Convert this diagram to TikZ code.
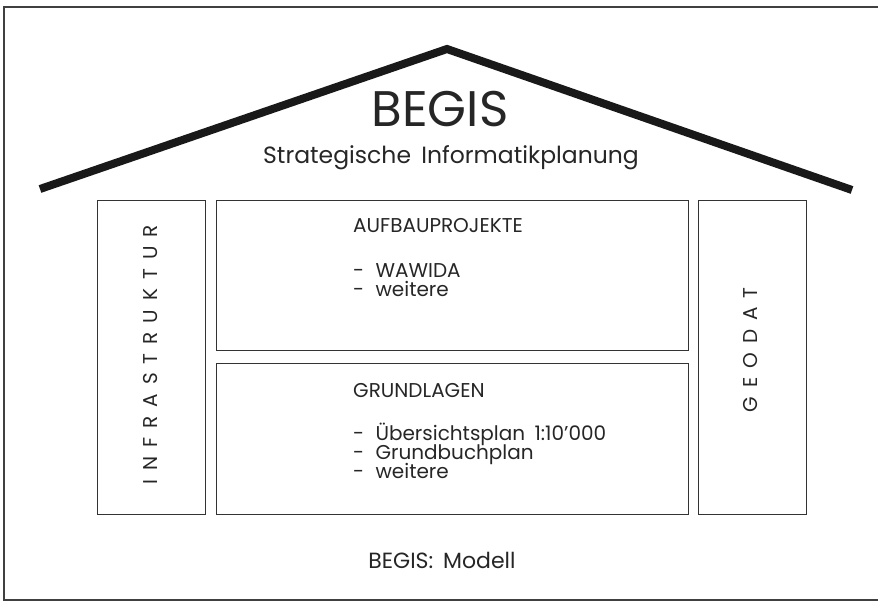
\documentclass[tikz,border=0pt]{standalone}
\usepackage{fontspec}
\setmainfont{Poppins}
\newcommand{\lettergap}{\spaceskip=9pt\relax}

\begin{document}
\begin{tikzpicture}[x=1pt,y=-1pt,
  frameline/.style={draw=black!75,line width=1.2pt},
  boxline/.style={draw=black!80,line width=0.9pt},
  itemtext/.style={anchor=base west,inner sep=0pt,font=\fontsize{20}{22}\selectfont,text=black!85},
  vertext/.style={rotate=90,inner sep=0pt,font=\fontsize{20}{22}\selectfont,text=black!85}]

\useasboundingbox (0,0) rectangle (878,604);

%%%%%%%%%%%%%%%%%%%%%%%%%%%%%%%%%%%%%%
\draw [frameline] (878,7) -- (4,7) -- (4,600) -- (878,600);

\coordinate (eaveL) at (40,189);
\coordinate (apex) at (447,49);
\coordinate (eaveR) at (852,190);
\draw [line width=8pt,black!90] (eaveL) -- (apex) -- (eaveR);

\node[anchor=base,inner sep=0pt,font=\fontsize{50}{54}\selectfont,text=black!85] at (440,127) (title) {BEGIS};
\node[anchor=base,inner sep=0pt,font=\fontsize{23.5}{26}\selectfont,text=black!85] at (451,164) (subtitle) {Strategische\hspace{4pt} Informatikplanung};

%%%%%%%%%%%%%%%%%%%%%%%%%%%%%%%%%%%%%%
\draw [boxline] (97,200) rectangle (205,514);
\node[vertext] at (151,355) (infra) {\lettergap I N F R A S T R U K T U R};

\draw [boxline] (216,200) rectangle (688,350);
\node[itemtext] at (353,233) (aufbau) {AUFBAUPROJEKTE};
\node[itemtext] at (353,277) (wawida) {-\hspace{6pt} WAWIDA};
\node[itemtext] at (353,296) (weiterA) {-\hspace{6pt} weitere};

\draw [boxline] (216,363) rectangle (688,514);
\node[itemtext] at (353,397) (grund) {GRUNDLAGEN};
\node[itemtext] at (353,440) (uebersicht) {-\hspace{6pt} Übersichtsplan\hspace{4pt} 1:10’000};
\node[itemtext] at (353,459) (grundbuch) {-\hspace{6pt} Grundbuchplan};
\node[itemtext] at (353,478) (weiterB) {-\hspace{6pt} weitere};

\draw [boxline] (698,200) rectangle (806,514);
\node[vertext] at (751,350) (geodat) {\lettergap G E O D A T};

%%%%%%%%%%%%%%%%%%%%%%%%%%%%%%%%%%%%%%
\node[anchor=base,inner sep=0pt,font=\fontsize{22}{25}\selectfont,text=black!85] at (442,568) (caption) {BEGIS:\hspace{4pt} Modell};

\end{tikzpicture}
\end{document}
